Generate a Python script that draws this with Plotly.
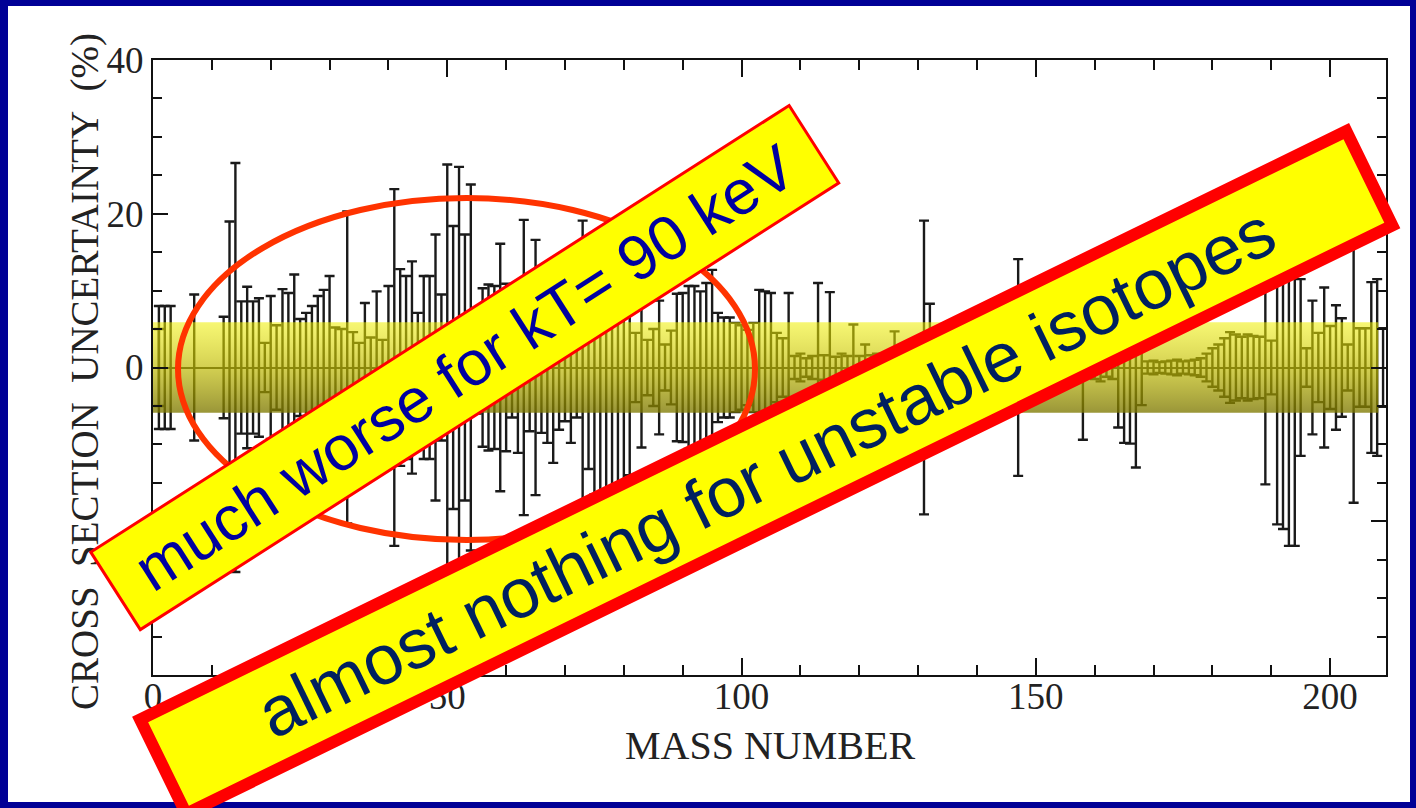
import plotly.graph_objects as go

# ---------------- data ----------------
mass_number = [
    1, 1, 2, 3, 7,
    12, 13, 14, 15, 16, 17, 18, 19, 20, 21, 22, 23, 24, 25, 26, 27, 28, 29, 30,
    31, 32, 33, 34, 35, 36, 37, 38, 39, 40, 41, 42, 43, 44, 45, 46, 47, 48, 49,
    50, 51, 52, 53, 54, 55, 56, 57, 58, 59, 60, 61, 62, 63, 64, 65, 66, 67, 68,
    69, 70, 71, 72, 73, 74, 75, 76, 77, 78, 79, 80, 81, 82, 83, 84, 85, 86, 87,
    88, 89, 90, 91, 92, 93, 94, 95, 96, 97, 98, 99, 100, 101, 102, 103, 104, 105,
    106, 107, 108, 109, 110, 111, 112, 113, 114, 115, 116, 117, 118, 119, 120,
    121, 122, 123, 124, 125, 126, 127, 128, 129, 130, 131, 132, 133, 134, 135,
    136, 137, 138, 139, 140, 141, 142, 143, 144, 145, 146, 147, 148, 149, 150,
    151, 152, 153, 154, 155, 156, 157, 158, 159, 160, 161, 162, 163, 164, 165,
    166, 167, 168, 169, 170, 171, 172, 173, 174, 175, 176, 177, 178, 179, 180,
    181, 182, 183, 184, 185, 186, 187, 188, 189, 190, 191, 192, 193, 194, 195,
    196, 197, 198, 199, 200, 201, 202, 203, 204, 205, 206, 207, 208, 209,
]
uncertainty_pct = [
    8.0, 5.0, 8.0, 8.0, 9.5,
    6.6, 19.0, 26.6, 8.6, 10.5, 8.6, 9.0, 3.2, 9.3, 5.5, 10.2, 9.7, 12.1, 6.3, 7.1, 8.0, 9.3, 10.1, 11.9,
    5.2, 5.0, 20.3, 4.6, 3.2, 8.4, 3.9, 9.9, 3.6, 10.6, 23.2, 12.8, 11.9, 13.8, 7.1, 11.9, 11.9, 17.3, 9.5,
    26.4, 18.4, 26.1, 17.3, 23.8, 6.0, 10.3, 10.8, 10.6, 16.1, 10.9, 6.5, 11.1, 19.2, 8.3, 16.6, 8.5, 9.8, 12.4,
    8.1, 7.0, 9.8, 6.5, 19.1, 13.2, 16.5, 17.0, 16.8, 15.5, 17.5, 16.0, 14.0, 4.5, 10.4, 3.6, 5.0, 8.7, 3.0,
    4.8, 9.6, 9.7, 10.6, 10.6, 9.9, 11.0, 12.7, 7.1, 6.5, 6.5, 5.8, 5.5, 4.9, 5.8, 10.1, 9.9, 9.7,
    4.5, 3.8, 9.7, 1.5, 1.8, 1.2, 1.5, 11.0, 1.6, 9.8, 1.4, 1.8, 1.5, 5.6, 1.5,
    3.0, 1.6, 1.8, 1.4, 2.0, 4.7, 2.2, 2.5, 2.8, 3.0, 19.1, 8.3, 3.5, 3.0, 3.2,
    2.8, 3.0, 2.6, 2.8, 2.5, 3.0, 2.8, 3.2, 3.0, 3.3, 3.0, 14.1, 3.2, 3.0, 2.8,
    3.0, 2.7, 2.9, 2.5, 2.2, 2.0, 1.5, 9.4, 1.2, 1.5, 1.8, 1.2, 1.5, 7.8, 9.8,
    9.9, 13.0, 4.9, 0.8, 0.9, 0.7, 0.8, 0.9, 1.0, 0.8, 0.9, 1.0, 1.2, 1.8, 2.5,
    3.0, 3.8, 4.6, 4.3, 4.0, 4.3, 4.1, 4.0, 15.2, 3.5, 20.4, 21.0, 23.2, 23.2, 11.5,
    2.5, 8.7, 4.5, 10.4, 5.4, 8.1, 6.4, 3.0, 17.6, 5.1, 5.1, 11.1, 11.5, 5.1,
]
zero_level = [0.0] * len(mass_number)

x_tick_values = [0, 50, 100, 150, 200]
x_tick_labels = ["0", "50", "100", "150", "200"]
y_tick_values = [-40, -20, 0, 20, 40]
y_tick_labels = ["", "", "0", "20", "40"]

x_title = "MASS NUMBER"
y_title = "CROSS\u00a0 SECTION\u00a0 UNCERTAINTY\u00a0 (%)"

band_half_width = 5.9          # % (highlighted band)
band_x_end = 208.2             # mass number where band stops

label_box1 = "much worse for kT= 90 keV"
label_box2 = "almost nothing for unstable isotopes"

# ---------------- layout geometry (pixels) ----------------
W, H = 1416, 808
PL, PR, PT, PB = 153, 1386, 60, 675   # plot area edges


def px_to_paper(px, py):
    return (px - PL) / (PR - PL), (PB - py) / (PB - PT)


fig = go.Figure()

# error bars (symmetric uncertainty about zero)
fig.add_trace(go.Scatter(
    x=mass_number, y=zero_level, mode="markers",
    marker=dict(size=1, color="rgba(0,0,0,0)"),
    error_y=dict(type="data", array=uncertainty_pct, symmetric=True,
                 color="#1a1a1a", thickness=2.4, width=5),
    showlegend=False, hoverinfo="skip",
))

# translucent yellow band with vertical gradient
band_x = [0, band_x_end, band_x_end, 0, 0]
band_y = [-band_half_width, -band_half_width, band_half_width, band_half_width, -band_half_width]
fig.add_trace(go.Scatter(
    x=band_x, y=band_y, mode="lines", line=dict(width=0),
    fill="toself",
    fillgradient=dict(type="vertical",
                      colorscale=[[0, "rgba(125,120,0,0.78)"],
                                  [0.5, "rgba(190,185,0,0.68)"],
                                  [1, "rgba(240,240,0,0.55)"]],
                      start=-band_half_width, stop=band_half_width),
    showlegend=False, hoverinfo="skip",
))

serif = "Liberation Serif, Times New Roman, serif"
sans = "Liberation Sans, Arial, sans-serif"

axis_common = dict(
    showline=True, linecolor="#111", linewidth=2, mirror="ticks",
    ticks="inside", tickcolor="#111", tickwidth=2,
    showgrid=False,
    tickfont=dict(family=serif, size=37, color="#222"),
)

fig.update_layout(
    width=W, height=H,
    margin=dict(l=PL, r=W - PR, t=PT, b=H - PB, autoexpand=False),
    paper_bgcolor="#000096",
    plot_bgcolor="rgba(0,0,0,0)",
    xaxis=dict(range=[0, 209.5], tickvals=x_tick_values, ticktext=x_tick_labels,
               ticklen=17, zeroline=False, ticklabelstandoff=-12,
               minor=dict(dtick=10, ticklen=10, ticks="inside", tickcolor="#111", tickwidth=2),
               **axis_common),
    yaxis=dict(range=[-40, 40], tickvals=y_tick_values, ticktext=y_tick_labels,
               ticklen=15, zeroline=True, zerolinecolor="#222", zerolinewidth=2,
               minor=dict(dtick=5, ticklen=9, ticks="inside", tickcolor="#111", tickwidth=2),
               **axis_common),
)

# axis titles
tx, ty = px_to_paper(770, 745)
fig.add_annotation(xref="paper", yref="paper", x=tx, y=ty, xanchor="center", yanchor="middle",
                   text=x_title, showarrow=False,
                   font=dict(family=serif, size=40, color="#222"))
tx, ty = px_to_paper(85, 372)
fig.add_annotation(xref="paper", yref="paper", x=tx, y=ty, xanchor="center", yanchor="middle",
                   text=y_title, showarrow=False, textangle=-90,
                   font=dict(family=serif, size=39, color="#222"))

# white slide area inside the dark-blue frame
x0, y0 = px_to_paper(8, 802)
x1, y1 = px_to_paper(1410, 6)
fig.add_shape(type="rect", xref="paper", yref="paper", x0=x0, y0=y0, x1=x1, y1=y1,
              fillcolor="white", line=dict(width=0), layer="below")

# red ellipse
fig.add_shape(type="circle", xref="paper", yref="paper",
              x0=px_to_paper(178, 0)[0], x1=px_to_paper(755, 0)[0],
              y0=px_to_paper(0, 540)[1], y1=px_to_paper(0, 198)[1],
              line=dict(color="#ff3300", width=6), layer="above")

# rotated call-out boxes
bx, by = px_to_paper(465, 368)
fig.add_annotation(xref="paper", yref="paper", x=bx, y=by, xanchor="center", yanchor="middle",
                   text=label_box1, showarrow=False, textangle=-32.6,
                   font=dict(family=sans, size=63, color="#0000a0"),
                   bgcolor="#ffff00", bordercolor="#ff0000", borderwidth=3, borderpad=0,
                   width=826, height=89)

bx2, by2 = px_to_paper(766, 472)
fig.add_annotation(xref="paper", yref="paper", x=bx2, y=by2, xanchor="center", yanchor="middle",
                   text=label_box2, showarrow=False, textangle=-26,
                   font=dict(family=sans, size=70, color="#00205f"),
                   bgcolor="#ffff00", bordercolor="#ff0000", borderwidth=12, borderpad=0,
                   width=1330, height=93)

fig.write_html("out.html", config={"displayModeBar": False},
               post_script="document.body.style.margin='0';")
